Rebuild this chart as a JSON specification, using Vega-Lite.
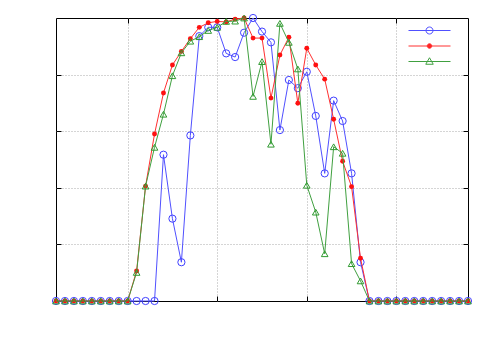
{
  "$schema": "https://vega.github.io/schema/vega-lite/v6.json",
  "width": 412,
  "height": 283,
  "autosize": "none",
  "padding": {"left": 56, "top": 18, "right": 32, "bottom": 49},
  "background": "white",
  "config": {
    "view": {"stroke": "#000000", "strokeWidth": 1},
    "axis": {"labels": false, "title": null, "domain": false, "ticks": true, "tickSize": -5, "tickColor": "#000000", "tickWidth": 1, "gridColor": "#aaaaaa", "gridDash": [1, 2], "gridOpacity": 1, "gridWidth": 1}
  },
  "data": {"values": [
    {"x": 2, "A": 0, "B": 0, "C": 0},
    {"x": 3, "A": 0, "B": 0, "C": 0},
    {"x": 4, "A": 0, "B": 0, "C": 0},
    {"x": 5, "A": 0, "B": 0, "C": 0},
    {"x": 6, "A": 0, "B": 0, "C": 0},
    {"x": 7, "A": 0, "B": 0, "C": 0},
    {"x": 8, "A": 0, "B": 0, "C": 0},
    {"x": 9, "A": 0, "B": 0, "C": 0},
    {"x": 10, "A": 0, "B": 0, "C": 0},
    {"x": 11, "A": 0, "B": 0.106, "C": 0.101},
    {"x": 12, "A": 0, "B": 0.406, "C": 0.406},
    {"x": 13, "A": 0, "B": 0.590, "C": 0.543},
    {"x": 14, "A": 0.517, "B": 0.735, "C": 0.660},
    {"x": 15, "A": 0.291, "B": 0.834, "C": 0.796},
    {"x": 16, "A": 0.137, "B": 0.882, "C": 0.877},
    {"x": 17, "A": 0.585, "B": 0.927, "C": 0.918},
    {"x": 18, "A": 0.936, "B": 0.967, "C": 0.934},
    {"x": 19, "A": 0.967, "B": 0.983, "C": 0.956},
    {"x": 20, "A": 0.967, "B": 0.988, "C": 0.967},
    {"x": 21, "A": 0.875, "B": 0.986, "C": 0.988},
    {"x": 22, "A": 0.862, "B": 0.996, "C": 0.989},
    {"x": 23, "A": 0.948, "B": 1.0, "C": 1.0},
    {"x": 24, "A": 1.0, "B": 0.929, "C": 0.723},
    {"x": 25, "A": 0.952, "B": 0.929, "C": 0.846},
    {"x": 26, "A": 0.914, "B": 0.717, "C": 0.554},
    {"x": 27, "A": 0.604, "B": 0.869, "C": 0.981},
    {"x": 28, "A": 0.781, "B": 0.932, "C": 0.914},
    {"x": 29, "A": 0.752, "B": 0.699, "C": 0.820},
    {"x": 30, "A": 0.810, "B": 0.893, "C": 0.409},
    {"x": 31, "A": 0.654, "B": 0.834, "C": 0.314},
    {"x": 32, "A": 0.451, "B": 0.784, "C": 0.167},
    {"x": 33, "A": 0.708, "B": 0.642, "C": 0.545},
    {"x": 34, "A": 0.636, "B": 0.494, "C": 0.522},
    {"x": 35, "A": 0.451, "B": 0.404, "C": 0.132},
    {"x": 36, "A": 0.137, "B": 0.151, "C": 0.071},
    {"x": 37, "A": 0, "B": 0, "C": 0},
    {"x": 38, "A": 0, "B": 0, "C": 0},
    {"x": 39, "A": 0, "B": 0, "C": 0},
    {"x": 40, "A": 0, "B": 0, "C": 0},
    {"x": 41, "A": 0, "B": 0, "C": 0},
    {"x": 42, "A": 0, "B": 0, "C": 0},
    {"x": 43, "A": 0, "B": 0, "C": 0},
    {"x": 44, "A": 0, "B": 0, "C": 0},
    {"x": 45, "A": 0, "B": 0, "C": 0},
    {"x": 46, "A": 0, "B": 0, "C": 0},
    {"x": 47, "A": 0, "B": 0, "C": 0},
    {"x": 48, "A": 0, "B": 0, "C": 0}
  ]},
  "transform": [{"fold": ["A", "B", "C"], "as": ["s", "y"]}],
  "encoding": {
    "x": {"field": "x", "type": "quantitative", "scale": {"domain": [2, 48], "nice": false, "zero": false}, "axis": null},
    "y": {"field": "y", "type": "quantitative", "scale": {"domain": [0, 1], "nice": false}, "axis": null}
  },
  "layer": [
    {
      "transform": [{"filter": "datum.s === 'A'"}],
      "mark": {"type": "line", "strokeWidth": 1},
      "encoding": {
        "x": {"field": "x", "type": "quantitative", "scale": {"domain": [2, 48], "nice": false, "zero": false}, "axis": {"values": [10, 20, 30, 40], "grid": true, "orient": "bottom"}},
        "y": {"field": "y", "type": "quantitative", "scale": {"domain": [0, 1], "nice": false}, "axis": {"values": [0.2, 0.4, 0.6, 0.8], "grid": true, "orient": "left"}},
        "color": {
          "field": "s", "type": "nominal",
          "scale": {"domain": ["A", "B", "C"], "range": ["#5050ff", "#ff3030", "#40a040"]},
          "legend": {
            "orient": "none", "legendX": 368, "legendY": 7, "title": null,
            "labelExpr": "''", "labelFontSize": 1, "labelOffset": 0,
            "symbolSize": 100, "symbolStrokeWidth": 1, "rowPadding": 4.5, "padding": 0, "symbolOffset": 0,
            "encode": {"symbols": {"update": {
              "shape": {"signal": "datum.value === 'A' ? 'M-4.2,0H4.2M0.7,0A0.7,0.7,0,1,1,-0.7,0A0.7,0.7,0,1,1,0.7,0' : (datum.value === 'B' ? 'M-4.2,0H4.2M0.45,0A0.45,0.45,0,1,1,-0.45,0A0.45,0.45,0,1,1,0.45,0' : 'M-4.2,0H4.2M0,-0.75L0.75,0.55L-0.75,0.55Z')"},
              "fill": {"signal": "datum.value === 'B' ? '#ff1a1a' : 'transparent'"}
            }}}
          }
        }
      }
    },
    {
      "transform": [{"filter": "datum.s === 'A'"}],
      "mark": {"type": "point", "shape": "circle", "filled": false, "size": 52, "color": "#4040ff", "strokeWidth": 1, "opacity": 1}
    },
    {
      "transform": [{"filter": "datum.s === 'B'"}],
      "mark": {"type": "line", "strokeWidth": 1},
      "encoding": {"color": {"field": "s", "type": "nominal", "scale": {"domain": ["A", "B", "C"], "range": ["#5050ff", "#ff3030", "#40a040"]}}}
    },
    {
      "transform": [{"filter": "datum.s === 'B'"}],
      "mark": {"type": "point", "shape": "circle", "filled": true, "size": 24, "color": "#ff1010", "opacity": 1}
    },
    {
      "transform": [{"filter": "datum.s === 'C'"}],
      "mark": {"type": "line", "strokeWidth": 1},
      "encoding": {"color": {"field": "s", "type": "nominal", "scale": {"domain": ["A", "B", "C"], "range": ["#5050ff", "#ff3030", "#40a040"]}}}
    },
    {
      "transform": [{"filter": "datum.s === 'C'"}],
      "mark": {"type": "point", "shape": "triangle-up", "filled": false, "size": 44, "color": "#309a30", "strokeWidth": 1, "opacity": 1},
      "encoding": {
        "x": {"field": "x", "type": "quantitative", "scale": {"domain": [2, 48], "nice": false, "zero": false}, "axis": {"values": [10, 20, 30, 40], "grid": false, "orient": "top"}},
        "y": {"field": "y", "type": "quantitative", "scale": {"domain": [0, 1], "nice": false}, "axis": {"values": [0.2, 0.4, 0.6, 0.8], "grid": false, "orient": "right"}}
      }
    }
  ],
  "resolve": {"axis": {"x": "independent", "y": "independent"}}
}
